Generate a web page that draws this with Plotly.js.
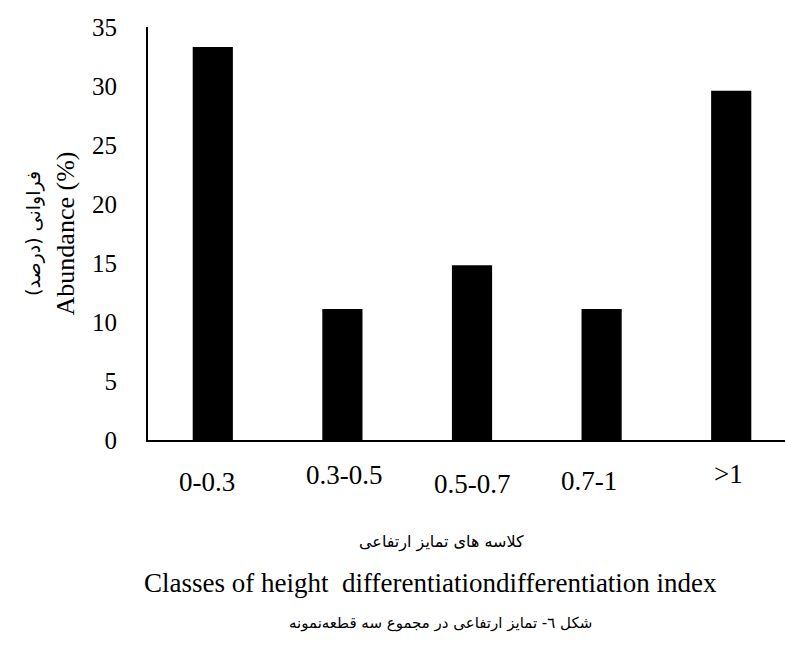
<!DOCTYPE html>
<html>
<head>
<meta charset="utf-8">
<script src="https://cdn.plot.ly/plotly-3.0.1.min.js"></script>
<style>html,body{margin:0;padding:0;background:#fff}#chart{width:785px;height:657px}</style>
</head>
<body>
<div id="chart"></div>
<script>
// Data
const categories = ["0-0.3", "0.3-0.5", "0.5-0.7", "0.7-1", ">1"];
const abundance = [33.3, 11.1, 14.8, 11.1, 29.6];
const yTickVals = [0, 5, 10, 15, 20, 25, 30, 35];

// Label offsets (layout only)
const tickXShift = [-6, 2, 0, -13, -3];
const tickYShift = [-42, -35, -44, -41, -34];

const serif = "Liberation Serif, Times New Roman, serif";
const fa = "DejaVu Sans, Liberation Serif, sans-serif";

const annotations = categories.map((c, i) => ({
  x: c, xref: "x", y: 0, yref: "paper",
  text: c, showarrow: false,
  xanchor: "center", yanchor: "middle",
  xshift: tickXShift[i], yshift: tickYShift[i],
  font: {family: serif, size: 27, color: "#000"}
}));

annotations.push(
  {x: 0, xref: "paper", y: 0, yref: "paper", xanchor: "center", yanchor: "middle",
   xshift: 293, yshift: -102, showarrow: false,
   text: "کلاسه های تمایز ارتفاعی", font: {family: fa, size: 16, color: "#000"}},
  {x: 0, xref: "paper", y: 0, yref: "paper", xanchor: "center", yanchor: "middle",
   xshift: 282, yshift: -143, showarrow: false,
   text: "Classes of height  differentiationdifferentiation index", font: {family: serif, size: 27, color: "#000"}},
  {x: 0, xref: "paper", y: 0, yref: "paper", xanchor: "center", yanchor: "middle",
   xshift: 292, yshift: -183, showarrow: false,
   text: "شکل ٦- تمایز ارتفاعی در مجموع سه قطعه‌نمونه", font: {family: fa, size: 15, color: "#000"}}
);

const trace = {
  type: "bar",
  x: categories,
  y: abundance,
  marker: {color: "#000000", line: {width: 0}},
  hoverinfo: "x+y"
};

const layout = {
  width: 785, height: 657,
  margin: {l: 148, r: 0, t: 27, b: 217, pad: 0},
  paper_bgcolor: "#fff", plot_bgcolor: "#fff",
  showlegend: false,
  bargap: 0.69,
  xaxis: {
    type: "category",
    range: [-0.5, 4.415],
    showline: true, linecolor: "#000", linewidth: 2,
    showgrid: false, zeroline: false, ticks: "",
    showticklabels: false,
    fixedrange: true
  },
  yaxis: {
    range: [0, 35],
    tickvals: yTickVals,
    showline: true, linecolor: "#000", linewidth: 2,
    showgrid: false, zeroline: false, ticks: "",
    ticklabelstandoff: 24,
    tickfont: {family: serif, size: 25, color: "#000"},
    title: {
      text: '<span style="font-family:DejaVu Sans;font-size:19px">فراوانی (درصد)</span><br>Abundance (%)',
      font: {family: serif, size: 26, color: "#000"},
      standoff: 10
    },
    fixedrange: true
  },
  annotations: annotations
};

Plotly.newPlot("chart", [trace], layout, {displayModeBar: false, staticPlot: true});
</script>
</body>
</html>
